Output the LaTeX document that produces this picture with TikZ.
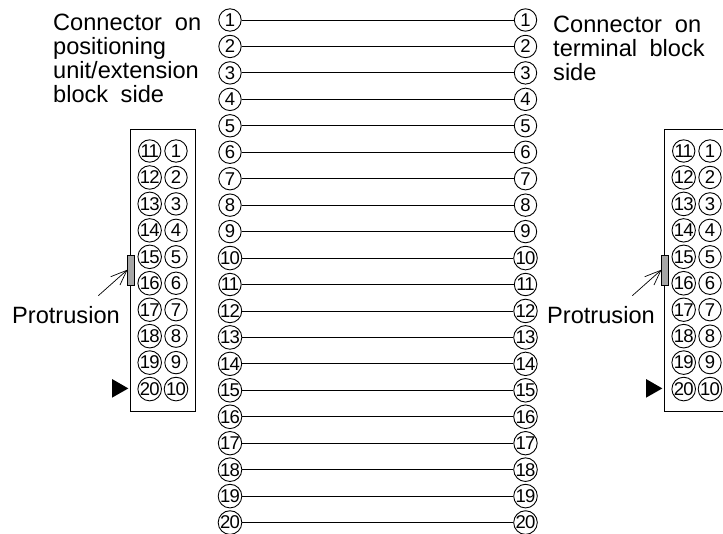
\documentclass[tikz,border=0pt]{standalone}
\usepackage{fontspec}
\setmainfont{Liberation Sans}
\newfontfamily\tightdigits[LetterSpace=-5]{Liberation Sans}
\newcommand{\pinnum}[1]{\ifnum#1>9 {\tightdigits #1}\else #1\fi}
\begin{document}
\begin{tikzpicture}[x=1pt,y=-1pt,
  pin/.style={circle,draw,line width=0.9pt,minimum size=22.4pt,inner sep=0pt,font=\fontsize{18.5}{19}\selectfont},
  wire/.style={line width=0.9pt},
  housing/.style={draw,line width=0.9pt},
  label/.style={anchor=north west,inner sep=0pt,align=left,font=\fontsize{23.6}{24}\selectfont},
  bump/.style={draw,fill=black!35,line width=0.9pt},
  lead/.style={line width=0.7pt},
  mark1/.style={fill=black}]
\useasboundingbox (0,0) rectangle (723,533);
\clip (0,0) rectangle (723,533);
\foreach \n in {1,...,20}{
  \pgfmathsetmacro{\yy}{20+(\n-1)*26.45}
  \node[pin] (a\n) at (230,\yy) {\pinnum{\n}};
  \node[pin] (b\n) at (525.5,\yy) {\pinnum{\n}};
  \draw[wire] (a\n) -- (b\n);
}
\foreach \side/\ox in {l/0,r/534}{
  \begin{scope}[xshift=\ox pt]
  \node[housing,minimum width=65pt,minimum height=281.5pt,inner sep=0pt] (h\side) at (163,270.2) {};
  \foreach \n in {1,...,10}{
    \pgfmathsetmacro{\yy}{151+(\n-1)*26.45}
    \pgfmathtruncatemacro{\m}{\n+10}
    \node[pin] (\side o\n) at (176,\yy) {\pinnum{\n}};
    \node[pin] (\side i\m) at (149.7,\yy) {\pinnum{\m}};
  }
  \node[bump,minimum width=7pt,minimum height=29.3pt,inner sep=0pt] (p\side) at (130.8,270.3) {};
  \coordinate (t\side) at (98.3,295.7);
  \coordinate (u\side) at (110.7,276.7);
  \coordinate (v\side) at (120,285);
  \draw[lead] (t\side) -- (p\side.west);
  \draw[lead] (u\side) -- (p\side.west) -- (v\side);
  \coordinate (m1\side) at (112,379);
  \coordinate (m2\side) at (128.3,388.4);
  \coordinate (m3\side) at (112,397.7);
  \fill[mark1] (m1\side) -- (m2\side) -- (m3\side) -- cycle;
  \end{scope}
}
\node[label] (tl) at (53,13.5) {Connector\hspace{0.27em} on\\positioning\\unit/extension\\block\hspace{0.25em} side};
\node[label] (tr) at (553,15.5) {Connector\hspace{0.27em} on\\terminal\hspace{0.25em} block\\side};
\node[label] (pl) at (12,306) {Protrusion};
\node[label] (pr) at (547,306) {Protrusion};
\end{tikzpicture}
\end{document}
